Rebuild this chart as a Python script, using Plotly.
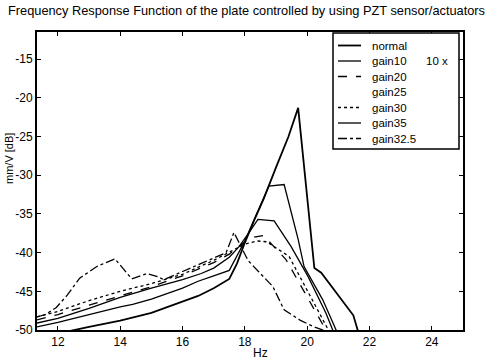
import plotly.graph_objects as go

# ---------------- data ----------------
normal_f = [11.33, 12.3, 13.0, 14.0, 15.0, 16.0, 16.5, 17.0, 17.5, 17.75, 18.0, 18.3, 18.6, 19.0, 19.4, 19.71, 20.23, 20.45, 21.48, 21.65]
normal_db = [-50.8, -50.2, -49.6, -48.8, -47.8, -46.4, -45.6, -44.6, -43.4, -41.4, -38.7, -35.8, -33.1, -29.0, -25.0, -21.3, -42.0, -42.6, -48.1, -50.4]

gain10_f = [11.33, 12.0, 13.0, 14.0, 14.4, 15.0, 16.0, 16.5, 17.0, 17.5, 18.0, 18.5, 18.77, 19.26, 19.71, 19.9, 20.5, 20.95]
gain10_db = [-49.6, -49.0, -48.0, -47.0, -46.7, -46.0, -44.6, -43.7, -43.0, -42.3, -38.5, -33.8, -31.4, -31.2, -38.3, -41.8, -46.1, -50.2]

gain20_f = [11.33, 12.0, 13.0, 14.0, 15.0, 16.0, 17.0, 17.5, 18.0, 18.3, 18.6, 19.32, 19.9, 20.6]
gain20_db = [-48.7, -48.0, -46.8, -45.6, -44.4, -43.0, -41.3, -40.2, -38.6, -38.0, -37.8, -40.9, -45.0, -50.0]

gain25_f = [11.33, 12.0, 13.0, 14.0, 15.0, 16.0, 17.0, 18.0, 18.5, 19.3, 20.0, 20.6]
gain25_db = [-48.5, -47.8, -46.5, -45.3, -44.2, -42.9, -41.1, -38.8, -38.2, -40.8, -45.0, -50.0]

gain30_f = [11.33, 12.0, 13.0, 14.0, 15.0, 16.0, 17.0, 17.5, 18.0, 18.4, 18.7, 19.42, 20.0, 20.68]
gain30_db = [-48.3, -47.6, -46.2, -45.0, -44.0, -42.8, -41.0, -40.0, -38.9, -38.5, -38.6, -40.5, -44.8, -50.0]

gain35_f = [11.33, 12.0, 13.0, 14.0, 15.0, 16.0, 16.6, 17.0, 17.5, 17.8, 18.1, 18.42, 18.94, 19.48, 20.03, 20.6, 20.84]
gain35_db = [-49.1, -48.5, -47.2, -45.8, -44.6, -43.5, -42.7, -42.0, -40.6, -39.3, -37.6, -35.7, -35.9, -39.2, -43.1, -47.8, -50.2]

gain325_f = [11.33, 11.6, 11.95, 12.3, 12.7, 13.25, 13.83, 14.37, 14.86, 15.2, 15.4, 16.0, 16.6, 17.4, 17.65, 17.8, 18.1, 18.45, 18.9, 19.26, 19.8, 20.23, 20.7]
gain325_db = [-48.3, -48.0, -47.1, -45.5, -43.3, -41.8, -40.8, -43.4, -42.7, -43.1, -43.5, -42.5, -41.4, -40.0, -37.4, -38.6, -41.0, -42.5, -44.4, -47.4, -48.8, -49.6, -50.3]

x_ticks = [12, 14, 16, 18, 20, 22, 24]
y_ticks = [-50, -45, -40, -35, -30, -25, -20, -15]
y_tick_labels = ["-50", "-45", "-40", "-35", "-30", "-25", "-20", "-15"]

title_text = "Frequency Response Function of the plate controlled by using PZT sensor/actuators"
x_label = "Hz"
y_label = "mm/V [dB]"
legend_note = "10 x"

series_names = ["normal", "gain10", "gain20", "gain25", "gain30", "gain35", "gain32.5"]
series_f = [normal_f, gain10_f, gain20_f, gain25_f, gain30_f, gain35_f, gain325_f]
series_db = [normal_db, gain10_db, gain20_db, gain25_db, gain30_db, gain35_db, gain325_db]
series_dash = ["solid", "solid", "dash", "solid", "dot", "solid", "dashdot"]
series_color = ["black", "black", "black", "rgba(255,255,255,0)", "black", "black", "black"]
series_width = [1.8, 1.3, 1.3, 1.3, 1.3, 1.3, 1.3]

# ---------------- figure ----------------
W, H = 493, 361
L, R, T, B = 37, 30, 32, 31
PW, PH = W - L - R, H - T - B


def px(x):
    return (x - L) / PW


def py(y):
    return (H - B - y) / PH


fig = go.Figure()
order = [3, 0, 1, 2, 4, 5, 6]  # invisible trace first
for i in order:
    fig.add_trace(go.Scatter(
        x=series_f[i], y=series_db[i], mode="lines", name=series_names[i],
        showlegend=False,
        line=dict(color=series_color[i], width=series_width[i], dash=series_dash[i]),
    ))

FONT = "Liberation Sans, Arial, sans-serif"

shapes = []
annotations = []

# legend box (drawn like MATLAB's legend)
box_x0, box_x1, box_y0, box_y1 = 333, 459, 33, 149
shapes.append(dict(type="rect", xref="paper", yref="paper",
                   x0=px(box_x0), x1=px(box_x1), y0=py(box_y1), y1=py(box_y0),
                   line=dict(color="black", width=1.5), fillcolor="white", layer="above"))
row_y0, row_step = 45.5, 15.5
for k, name in enumerate(series_names):
    yy = row_y0 + k * row_step
    shapes.append(dict(type="line", xref="paper", yref="paper",
                       x0=px(338), x1=px(361), y0=py(yy), y1=py(yy), layer="above",
                       line=dict(color=series_color[k], width=series_width[k], dash=series_dash[k])))
    annotations.append(dict(text=name, xref="paper", yref="paper", x=px(370), y=py(yy),
                            xanchor="left", yanchor="middle", showarrow=False,
                            font=dict(size=11.5, family=FONT, color="black")))
annotations.append(dict(text=legend_note, xref="paper", yref="paper", x=px(424), y=py(row_y0 + row_step),
                        xanchor="left", yanchor="middle", showarrow=False,
                        font=dict(size=11.5, family=FONT, color="black")))

annotations.append(dict(text=x_label, xref="paper", yref="paper", x=px(260), y=py(353),
                        showarrow=False, xanchor="center", yanchor="middle", font=dict(size=12)))
annotations.append(dict(text=y_label, xref="paper", yref="paper", x=px(9), y=py(158),
                        showarrow=False, textangle=-90, xanchor="center", yanchor="middle",
                        font=dict(size=11)))

fig.update_layout(
    width=W, height=H,
    margin=dict(l=L, r=R, t=T, b=B),
    paper_bgcolor="white", plot_bgcolor="white",
    font=dict(family=FONT, color="black", size=12),
    title=dict(text=title_text, x=0.5, xref="container", xanchor="center",
               y=1 - 11 / H, yref="container", yanchor="middle",
               font=dict(size=12.8, family=FONT, color="black")),
    showlegend=False,
    xaxis=dict(range=[11.33, 25.0], tickvals=x_ticks, ticktext=[str(v) for v in x_ticks],
               showgrid=False, zeroline=False, showline=True, linecolor="black",
               linewidth=2, mirror="ticks", ticks="inside", ticklen=4,
               tickwidth=1.2, tickcolor="black", tickfont=dict(size=12)),
    yaxis=dict(range=[-50, -11.5], tickvals=y_ticks, ticktext=y_tick_labels,
               showgrid=False, zeroline=False, showline=True, linecolor="black",
               linewidth=2, mirror="ticks", ticks="inside", ticklen=4,
               tickwidth=1.2, tickcolor="black", tickfont=dict(size=12)),
    shapes=shapes,
    annotations=annotations,
)

fig.write_html("out.html")
